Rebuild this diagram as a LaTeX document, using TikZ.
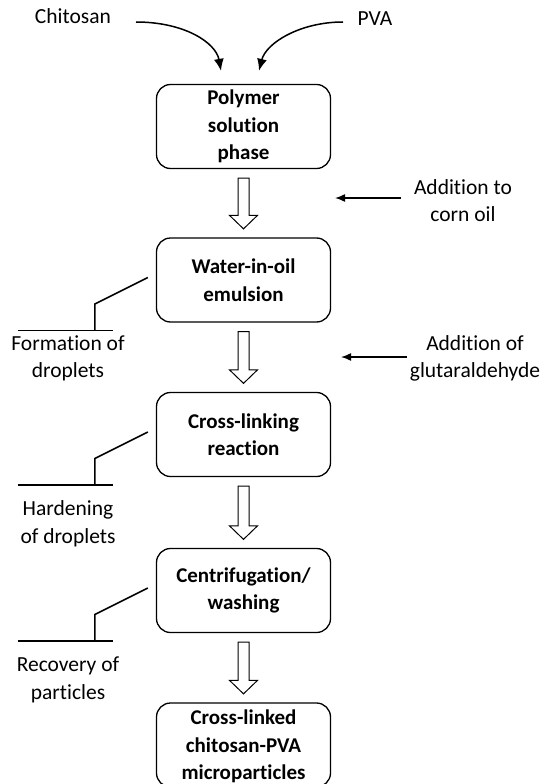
\documentclass[tikz,border=0pt]{standalone}
\usepackage{fontspec}
\setmainfont{Carlito}[Ligatures=NoCommon]
\usetikzlibrary{calc,arrows.meta}
\newcommand\hollowarr[2]{%
  \draw[hollow] ($(#1.south)+(-5.5,9)$) -- ($(#2.north)+(-5.5,-22)$) -- ++(-8.5,0)
    -- ($(#2.north)+(0,-8.5)$) -- ($(#2.north)+(14,-22)$) -- ++(-8.5,0)
    -- ($(#1.south)+(5.5,9)$) -- cycle;}
\newcommand\sidenote[2]{%
  \draw[conn] ($(#1.west)+(-8,-2.5)$) -- ++(-53,26.5) -- ++(0,26.5) coordinate (#2);
  \draw[conn] ($(#2)+(-77,0)$) -- ($(#2)+(18,0)$);}
\begin{document}
\begin{tikzpicture}[x=1pt,y=-1pt,
  every node/.style={font=\fontsize{21.5}{27.5}\selectfont, inner sep=0pt},
  stepbox/.style={draw, line width=1.3pt, rounded corners=14pt, minimum width=174pt,
    minimum height=84pt, align=center, font=\fontsize{21}{27.5}\selectfont\bfseries},
  lbl/.style={align=center},
  conn/.style={line width=1.5pt},
  bigtip/.style={-{Latex[length=12pt,width=10pt]}},
  smalltip/.style={-{Latex[length=10pt,width=8pt]}},
  hollow/.style={draw, line width=1pt, fill=white},
]
\useasboundingbox (0,0) rectangle (547,784);
\clip (0,0) rectangle (547,784);

% main steps
\node[stepbox] (b1) at (243.5,126.5) {Polymer\\solution\\phase};
\node[stepbox] (b2) at (243.5,280) {Water-in-oil\\emulsion};
\node[stepbox] (b3) at (243.5,434.5) {Cross-linking\\reaction};
\node[stepbox] (b4) at (243.5,590.5) {Centrifugation/\\washing};
\node[stepbox, text depth=0pt] (b5) at (243.5,745) {Cross-linked\\chitosan-PVA\\microparticles};

% inputs
\node[lbl] (chit) at (73,16) {Chitosan};
\node[lbl] (pva) at (375,19) {PVA};
\coordinate (c0) at (136,22);
\coordinate (p0) at (343,22);
\draw[conn,bigtip] (c0) .. controls (185,22) and (216,43) .. ($(b1.north)+(-22.5,-13)$);
\draw[conn,bigtip] (p0) .. controls (300,22) and (266,43) .. ($(b1.north)+(15.5,-13)$);

% additions
\node[lbl] (corn) at (463,200.5) {Addition to\\corn oil};
\node[lbl] (glut) at (475,358.5) {Addition of\\glutaraldehyde};
\coordinate (ca0) at (401,198);
\coordinate (ca1) at (335,198);
\coordinate (ga0) at (407,357);
\coordinate (ga1) at (341,357);
\draw[conn,smalltip] (ca0) -- (ca1);
\draw[conn,smalltip] (ga0) -- (ga1);

% hollow arrows
\hollowarr{b1}{b2}
\hollowarr{b2}{b3}
\hollowarr{b3}{b4}
\hollowarr{b4}{b5}

% side notes
\sidenote{b2}{f2}
\sidenote{b3}{f3}
\sidenote{b4}{f4}
\node[lbl] (form) at (68,358.5) {Formation of\\droplets};
\node[lbl] (hard) at (68,524) {Hardening\\of droplets};
\node[lbl] (rec) at (68,680) {Recovery of\\particles};
\end{tikzpicture}
\end{document}
